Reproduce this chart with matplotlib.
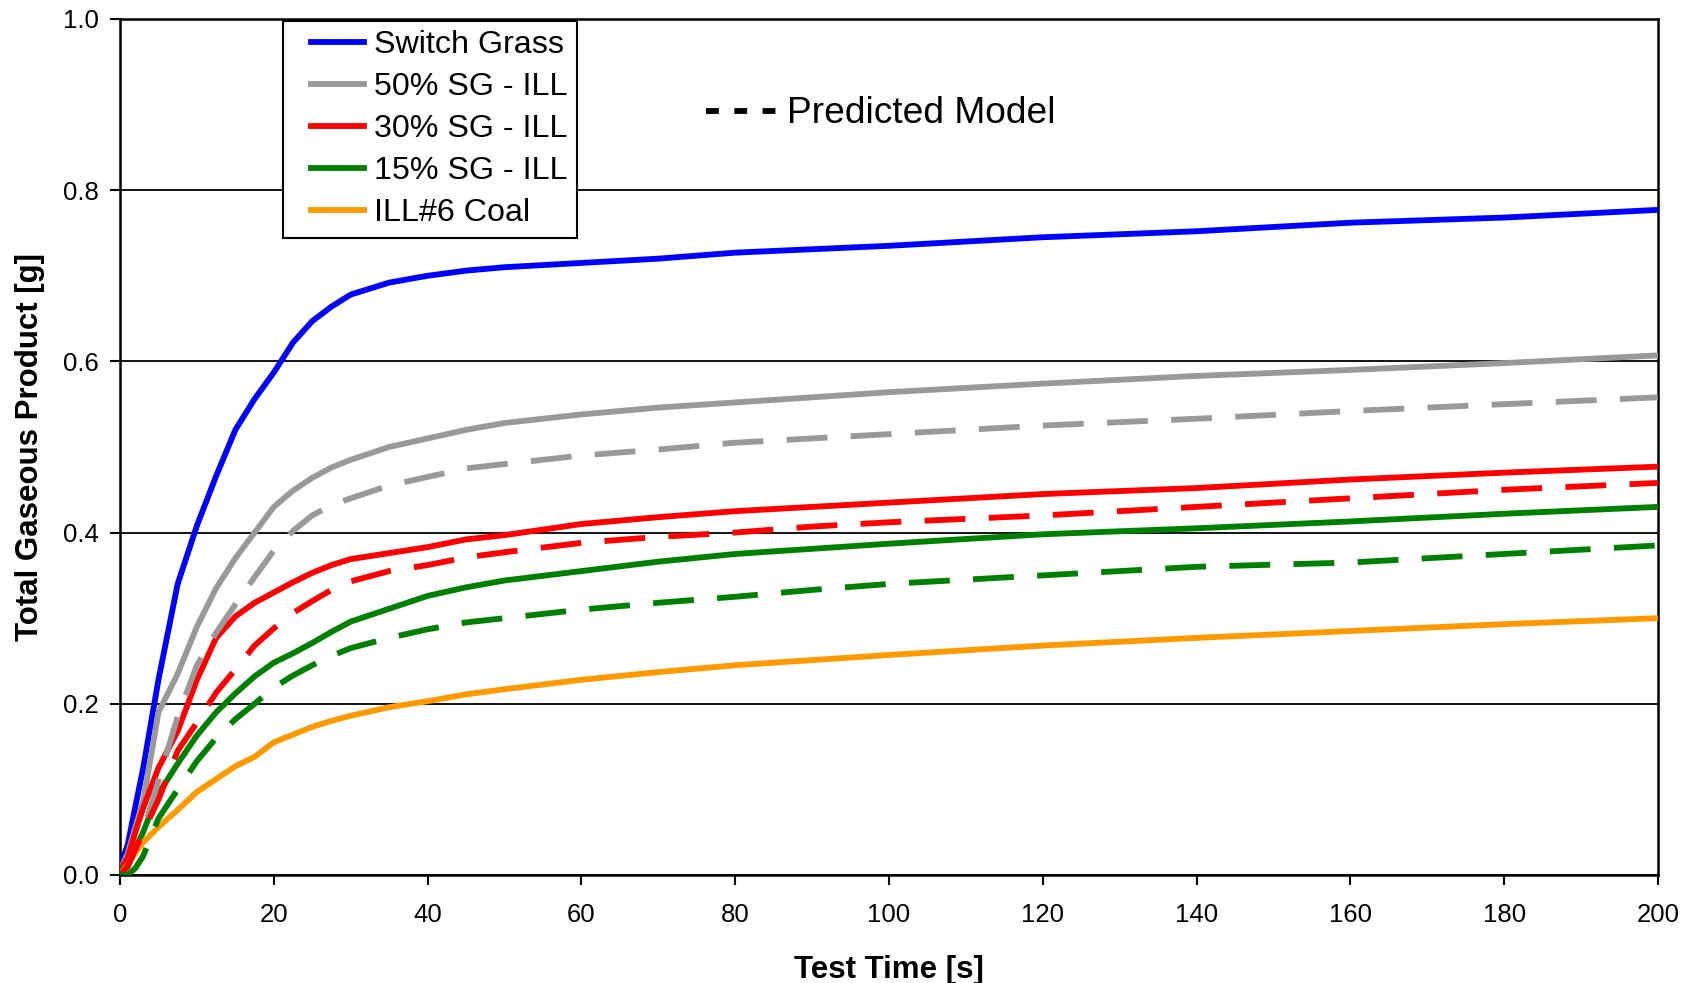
import matplotlib.pyplot as plt
from matplotlib.lines import Line2D
from matplotlib.legend_handler import HandlerLine2D

plt.rcParams['font.family'] = ['Liberation Sans', 'DejaVu Sans']

# ---------------- data ----------------
time_s = [0, 1, 2, 3, 5, 7.5, 10, 12.5, 15, 17.5, 20, 22.5, 25, 27.5, 30, 35, 40, 45, 50,
          60, 70, 80, 90, 100, 120, 140, 160, 180, 200]

switch_grass = [0.01, 0.035, 0.08, 0.124, 0.228, 0.34, 0.408, 0.466, 0.52, 0.556, 0.587,
                0.622, 0.647, 0.664, 0.678, 0.692, 0.70, 0.706, 0.71, 0.715, 0.72, 0.727,
                0.731, 0.735, 0.745, 0.752, 0.762, 0.768, 0.777]
sg50 = [0.005, 0.025, 0.056, 0.085, 0.19, 0.235, 0.29, 0.335, 0.37, 0.40, 0.43,
        0.449, 0.464, 0.476, 0.485, 0.50, 0.51, 0.52, 0.528, 0.538, 0.546, 0.552, 0.558,
        0.564, 0.574, 0.583, 0.59, 0.598, 0.607]
sg50_model = [0.0, 0.01, 0.03, 0.05, 0.11, 0.185, 0.245, 0.283, 0.316, 0.348, 0.379,
              0.402, 0.42, 0.432, 0.44, 0.455, 0.465, 0.475, 0.48, 0.49, 0.497, 0.505, 0.51,
              0.515, 0.525, 0.533, 0.542, 0.55, 0.558]
sg30 = [0.005, 0.02, 0.05, 0.078, 0.125, 0.168, 0.228, 0.277, 0.302, 0.318, 0.33,
        0.342, 0.353, 0.362, 0.369, 0.376, 0.383, 0.392, 0.397, 0.41, 0.418, 0.425, 0.43,
        0.435, 0.445, 0.452, 0.462, 0.47, 0.477]
sg30_model = [0.0, 0.01, 0.03, 0.05, 0.088, 0.145, 0.178, 0.213, 0.24, 0.268, 0.288,
              0.306, 0.32, 0.333, 0.343, 0.355, 0.362, 0.371, 0.377, 0.388, 0.395, 0.40, 0.407,
              0.412, 0.42, 0.43, 0.44, 0.45, 0.458]
sg15 = [0.005, 0.01, 0.03, 0.05, 0.095, 0.13, 0.163, 0.19, 0.212, 0.232, 0.248,
        0.259, 0.271, 0.284, 0.296, 0.311, 0.326, 0.336, 0.344, 0.355, 0.366, 0.375, 0.381,
        0.387, 0.398, 0.405, 0.413, 0.422, 0.43]
sg15_model = [0.0, 0.0, 0.008, 0.022, 0.066, 0.10, 0.133, 0.16, 0.182, 0.20, 0.219,
              0.233, 0.245, 0.256, 0.265, 0.277, 0.287, 0.295, 0.30, 0.31, 0.318, 0.325, 0.333,
              0.34, 0.35, 0.36, 0.365, 0.375, 0.385]
coal = [0.0, 0.012, 0.026, 0.038, 0.056, 0.076, 0.097, 0.112, 0.127, 0.138, 0.155,
        0.164, 0.173, 0.18, 0.186, 0.196, 0.203, 0.211, 0.217, 0.228, 0.237, 0.245, 0.251,
        0.257, 0.268, 0.277, 0.285, 0.293, 0.30]

measured = [
    ('Switch Grass', switch_grass, '#0000FF'),
    ('50% SG - ILL', sg50, '#999999'),
    ('30% SG - ILL', sg30, '#FF0000'),
    ('15% SG - ILL', sg15, '#008000'),
    ('ILL#6 Coal', coal, '#FF9900'),
]
predicted = [
    (sg50_model, '#999999'),
    (sg30_model, '#FF0000'),
    (sg15_model, '#008000'),
]


class ShiftedLine(HandlerLine2D):
    """legend line drawn a bit to the right (Excel style padding)"""
    def __init__(self, shift, **kw):
        super().__init__(**kw)
        self.shift = shift

    def create_artists(self, legend, orig_handle, xdescent, ydescent, width, height,
                       fontsize, trans):
        return super().create_artists(legend, orig_handle, xdescent - self.shift, ydescent,
                                      width - self.shift, height, fontsize, trans)


# ---------------- figure ----------------
fig = plt.figure(figsize=(16.83, 9.83), dpi=100)
ax = fig.add_axes([0.0713, 0.1099, 0.9138, 0.8708])

lw = 4.2
handles = []
for label, vals, color in measured:
    line, = ax.plot(time_s, vals, color=color, lw=lw, label=label,
                    solid_joinstyle='round', zorder=3)
    handles.append(line)
for vals, color in predicted:
    ax.plot(time_s, vals, color=color, lw=lw, linestyle=(0, (7, 4)), zorder=3)

ax.set_xlim(0, 200)
ax.set_ylim(0, 1.0)
ax.set_xticks(range(0, 201, 20))
ax.set_yticks([0.0, 0.2, 0.4, 0.6, 0.8, 1.0])
ax.set_yticklabels(['0.0', '0.2', '0.4', '0.6', '0.8', '1.0'])
ax.tick_params(direction='out', length=7, width=1.5, labelsize=18.5, color='black')
ax.tick_params(axis='x', pad=13)
ax.tick_params(axis='y', pad=8)
ax.grid(axis='y', color='black', lw=1.3)
ax.set_axisbelow(True)
for sp in ax.spines.values():
    sp.set_color('black')
    sp.set_linewidth(1.8)

ax.set_xlabel('Test Time [s]', fontsize=22.5, fontweight='bold', labelpad=20)
ax.set_ylabel('Total Gaseous Product [g]', fontsize=22.5, fontweight='bold', labelpad=13)

leg = ax.legend(handles=handles, loc='upper left', bbox_to_anchor=(0.106, 0.998),
                borderaxespad=0, fontsize=23.2, frameon=True, fancybox=False,
                edgecolor='black', framealpha=1, handlelength=2.22,
                handletextpad=0.3, labelspacing=0.37, borderpad=0.3,
                handler_map={Line2D: ShiftedLine(13)})
leg.get_frame().set_linewidth(1.5)
ax.add_artist(leg)

model_handle = Line2D([], [], color='black', lw=4.2, linestyle=(0, (2.2, 2.65)))
ax.legend(handles=[model_handle], labels=['Predicted Model'], loc='center left',
          bbox_to_anchor=(0.381, 0.889), borderaxespad=0, borderpad=0,
          frameon=False, fontsize=26.7, handlelength=1.89, handletextpad=0.29)

fig.savefig('out.png', dpi=100)
